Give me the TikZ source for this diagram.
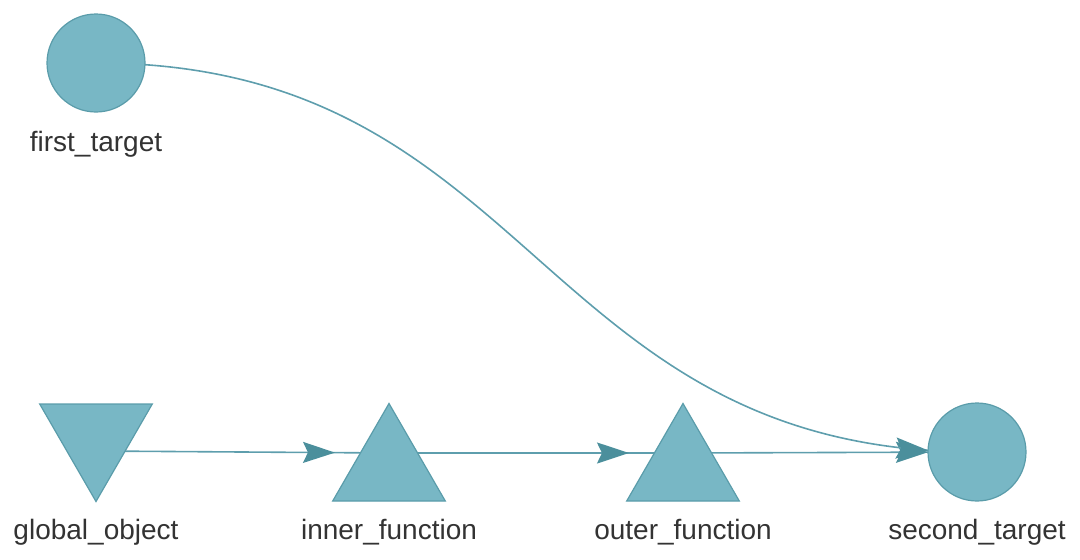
\documentclass[tikz,border=0pt]{standalone}
\usepackage{fontspec}
\setmainfont{Liberation Sans}
\usetikzlibrary{arrows.meta,shapes.geometric,decorations.markings,backgrounds}
\definecolor{nodefill}{HTML}{78B7C5}
\definecolor{nodeline}{HTML}{5A9CAA}
\definecolor{edgecol}{HTML}{5E9EAD}
\definecolor{tipcol}{HTML}{4B8F9C}
\definecolor{labcol}{HTML}{333333}
\tikzset{
  circnode/.style={circle, fill=nodefill, draw=nodeline, line width=1.2pt, minimum size=98pt, inner sep=0pt, outer sep=0pt},
  trinode/.style={regular polygon, regular polygon sides=3, fill=nodefill, draw=nodeline, line width=1.2pt, minimum size=130pt, inner sep=0pt, outer sep=0pt},
  lab/.style={anchor=base, text=labcol, font=\fontsize{28}{31}\selectfont, inner sep=0pt},
  edge/.style={draw=edgecol, line width=1.6pt},
  tipat/.style={postaction={decorate, decoration={markings, mark=at position #1 with {\arrow[tipcol]{Stealth[length=32pt,width=21pt,inset=5pt]}}}}}
}
\begin{document}
\begin{tikzpicture}[x=1pt,y=-1pt]
\useasboundingbox (0,0) rectangle (1080,560);
% nodes
\node[circnode] (first) at (96,63) {};
\node[circnode] (second) at (977,452) {};
\node[trinode, shape border rotate=180] (global) at (96,436.5) {};
\node[trinode] (inner) at (389,468.5) {};
\node[trinode] (outer) at (683,468.5) {};
% edge anchor points on the nodes
\coordinate (gC) at (96,451);
\coordinate (iC) at (389,453);
\coordinate (oC) at (683,453);
% labels
\node[lab] (lfirst) at (96,151) {first\_target};
\node[lab] (lglobal) at (96,539) {global\_object};
\node[lab] (linner) at (389,539) {inner\_function};
\node[lab] (louter) at (683,539) {outer\_function};
\node[lab] (lsecond) at (977,539) {second\_target};
% edges
\begin{pgfonlayer}{background}
\path[edge, tipat=-54pt] (gC) -- (iC);
\path[edge, tipat=-54pt] (iC) -- (oC);
\path[edge, tipat=-49pt] (oC) -- (second.center);
\path[edge, tipat=-49pt] (first.center) .. controls (536,63) and (536,452) .. (second.center);
\end{pgfonlayer}
\end{tikzpicture}
\end{document}
